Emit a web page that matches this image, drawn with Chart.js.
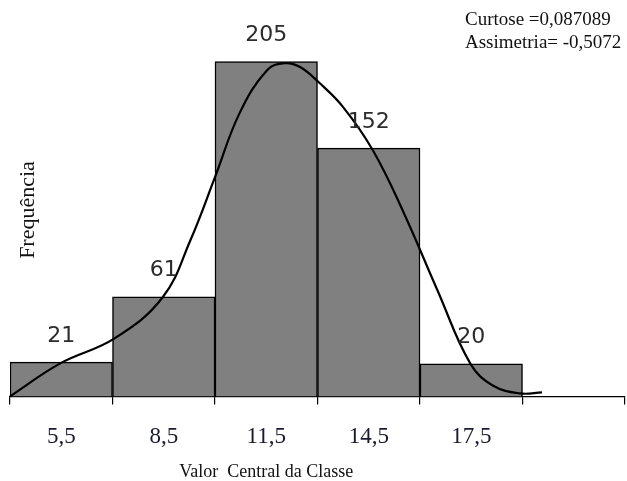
<!DOCTYPE html>
<html>
<head>
<meta charset="utf-8">
<script src="https://cdn.jsdelivr.net/npm/chart.js@4"></script>
<style>
  body { margin: 0; background: #fff; }
  #wrap { width: 627px; height: 481px; }
</style>
</head>
<body>
<div id="wrap"><canvas id="histChart"></canvas></div>
<script>
// class centres (last slot is empty on the original axis)
const classLabels = ['5,5', '8,5', '11,5', '14,5', '17,5', ''];
const frequencies = [21, 61, 205, 152, 20, null];

// fitted curve, x in "class widths" from the left edge
const curveX = [0, 0.49, 1.02, 1.49, 1.76, 2.0, 2.24, 2.51, 2.68, 2.83, 3.02, 3.25, 3.54, 3.83, 4.17, 4.49, 4.71, 4.98, 5.19];
const curveY = [0, 20.2, 35.5, 60.7, 95.6, 134.2, 173.4, 199.8, 204, 201.6, 191.8, 177.1, 150.7, 114, 65, 20.2, 6.7, 1.8, 2.5];

const statLines = ['Curtose =0,087089', 'Assimetria= -0,5072'];
const yTitle = 'Frequência';
const xTitle = 'Valor  Central da Classe';

const curvePoints = curveX.map((x, i) => ({ x: x, y: curveY[i] }));

// draws the bar values, the axis titles and the stats box
const textPlugin = {
  id: 'textPlugin',
  afterDraw(chart) {
    const ctx = chart.ctx;
    const meta = chart.getDatasetMeta(0);
    ctx.save();

    // values above bars
    ctx.font = '22px "DejaVu Sans"';
    ctx.fillStyle = '#2b2b2b';
    ctx.textAlign = 'center';
    ctx.textBaseline = 'middle';
    meta.data.forEach((bar, i) => {
      if (frequencies[i] == null) return;
      ctx.fillText(String(frequencies[i]), bar.x, bar.y - 26);
    });

    // x title, centred under the filled classes
    const xs = chart.scales.x;
    const lastBar = meta.data[4];
    const xMid = (xs.left + lastBar.x + lastBar.width / 2) / 2;
    ctx.font = '18px "Liberation Serif"';
    ctx.fillStyle = '#111';
    ctx.fillText(xTitle, xMid, 472);

    // y title
    ctx.save();
    ctx.translate(28, 210);
    ctx.rotate(-Math.PI / 2);
    ctx.font = '22px "Liberation Serif"';
    ctx.fillText(yTitle, 0, 0);
    ctx.restore();

    // curtose / assimetria
    ctx.textAlign = 'left';
    ctx.font = '19px "Liberation Serif"';
    ctx.fillText(statLines[0], 465, 20);
    ctx.fillText(statLines[1], 465, 43);

    ctx.restore();
  }
};

const ctx = document.getElementById('histChart').getContext('2d');
new Chart(ctx, {
  data: {
    labels: classLabels,
    datasets: [
      {
        type: 'bar',
        data: frequencies,
        xAxisID: 'x',
        yAxisID: 'y',
        backgroundColor: '#808080',
        borderColor: '#000',
        borderWidth: 1.5,
        barPercentage: 1,
        categoryPercentage: 1,
        grouped: false,
        order: 1
      },
      {
        type: 'line',
        data: curvePoints,
        xAxisID: 'u',
        yAxisID: 'y',
        borderColor: '#000',
        borderWidth: 2.2,
        pointRadius: 0,
        tension: 0.4,
        fill: false,
        clip: false,
        order: 0
      }
    ]
  },
  options: {
    responsive: true,
    maintainAspectRatio: false,
    animation: false,
    layout: { padding: { left: 10, right: 2, top: 37, bottom: 11 } },
    plugins: {
      legend: { display: false },
      tooltip: { enabled: false }
    },
    scales: {
      x: {
        type: 'category',
        offset: true,
        border: { display: true, color: '#000', width: 1.2 },
        grid: {
          offset: true,
          drawOnChartArea: false,
          drawTicks: true,
          tickLength: 8,
          color: '#000',
          lineWidth: 1.2
        },
        ticks: {
          font: { family: 'Liberation Serif', size: 23 },
          color: '#1a1a2e',
          padding: 19,
          maxRotation: 0
        }
      },
      u: {
        type: 'linear',
        display: false,
        min: 0,
        max: 6
      },
      y: {
        display: false,
        min: 0,
        max: 220
      }
    }
  },
  plugins: [textPlugin]
});
</script>
</body>
</html>
